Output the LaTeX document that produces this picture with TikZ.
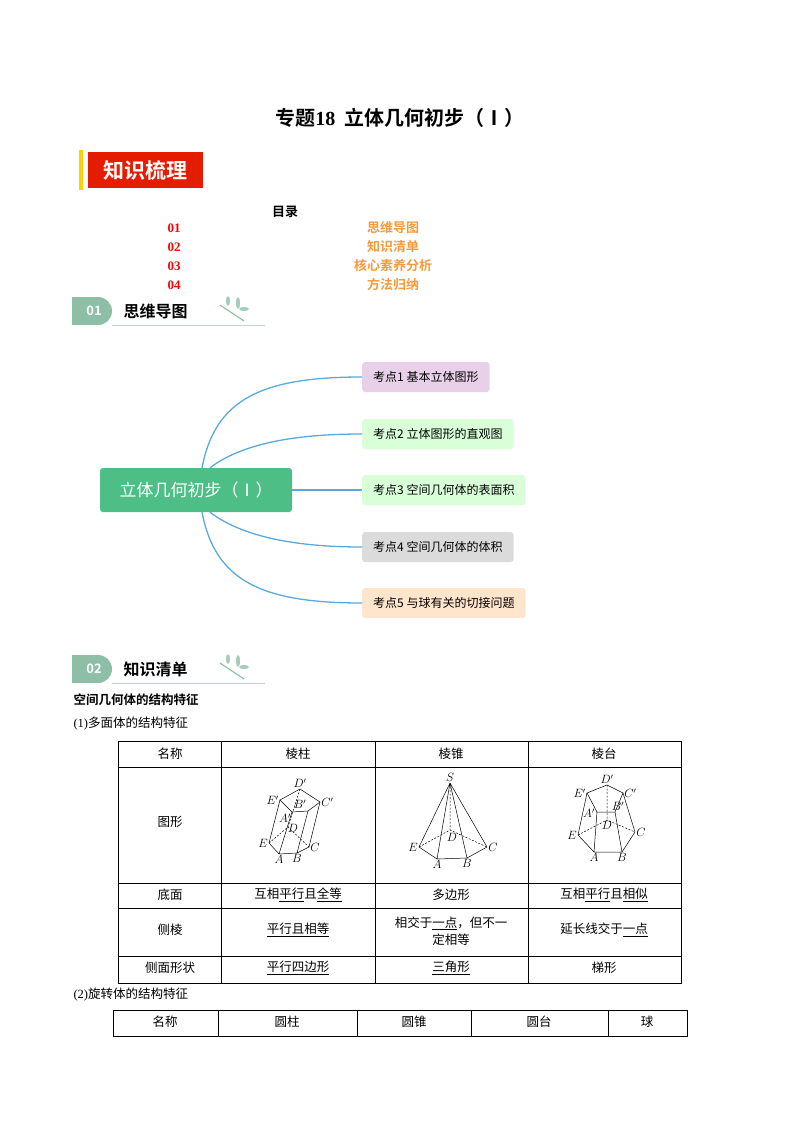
\documentclass[tikz,border=0pt]{standalone}
\usepackage{fontspec}
\setmainfont{Noto Sans CJK SC}[BoldFont=Noto Sans CJK SC Bold]
\newfontfamily\serifnum{Liberation Serif}
\newfontfamily\lm{Latin Modern Roman}
\definecolor{mgreen}{HTML}{4DBE86}
\definecolor{curve}{HTML}{5AA9DA}
\definecolor{orng}{HTML}{F39A3C}
\definecolor{badge}{HTML}{8DBFA6}
\begin{document}
\begin{tikzpicture}[x=1pt,y=-1pt,
 leaf/.style={rounded corners=3pt,minimum height=30pt,anchor=west,font=\fontsize{12}{13}\selectfont,inner xsep=11pt},
 br/.style={curve,line width=1.3pt},
 cell/.style={font=\fontsize{12.5}{14}\selectfont},
 lab/.style={font=\lm\itshape\fontsize{12}{13}\selectfont,inner sep=1pt},
 dsh/.style={dashed,dash pattern=on 2pt off 1.5pt}]
\useasboundingbox (0,0) rectangle (800,1132);
\node[font=\bfseries\fontsize{20}{22}\selectfont] (title) at (400,118) {专题{\serifnum 18}\ \ 立体几何初步（Ⅰ）};
% knowledge badge
\fill[yellow!70!orange] (79,150) rectangle (83,190);
\node[fill=red!75!orange!90!black,text=white,font=\bfseries\fontsize{21}{22}\selectfont,minimum width=115pt,minimum height=36pt,anchor=west] (kb) at (88,170) {知识梳理};
\node[font=\bfseries\fontsize{13}{14}\selectfont] (ml) at (285,212) {目录};
\foreach \n/\t/\y in {01/思维导图/228,02/知识清单/247,03/核心素养分析/266,04/方法归纳/285}{
 \node[text=red,font=\serifnum\bfseries\fontsize{13}{14}\selectfont] (n\n) at (174,\y) {\n};
 \node[text=orng,font=\bfseries\fontsize{13}{14}\selectfont] (t\n) at (393,\y) {\t};}
% section badges
\foreach \yy/\nn/\tt/\id in {311/01/思维导图/a,669/02/知识清单/b}{
 \fill[badge] (72,\yy-14) rectangle (98,\yy+14);
 \fill[badge] (98,\yy) circle (14);
 \node[text=white,font=\bfseries\fontsize{13}{14}\selectfont] (bn\id) at (94,\yy) {\nn};
 \node[font=\bfseries\fontsize{16}{18}\selectfont,anchor=west] (bt\id) at (120,\yy) {\tt};
 \draw[badge!60,line width=1pt] (112,\yy+14) -- (265,\yy+14);
 \draw[badge,line width=1.2pt] (220,\yy-6) .. controls (232,\yy+2) .. (244,\yy+10);
 \fill[badge!80] (228,\yy-10) ellipse (2pt and 5pt);
 \fill[badge!80] (238,\yy-8) ellipse (2pt and 6pt);
 \fill[badge!80] (244,\yy-2) ellipse (5pt and 2pt);}
% mind map
\node[fill=mgreen,text=white,rounded corners=3pt,minimum width=192pt,minimum height=44pt,font=\fontsize{17}{18}\selectfont] (root) at (196,490) {立体几何初步（Ⅰ）};
\node[leaf,fill=violet!18] (k1) at (362,377) {考点1 基本立体图形};
\node[leaf,fill=green!15] (k2) at (362,434) {考点2 立体图形的直观图};
\node[leaf,fill=green!15] (k3) at (362,490) {考点3 空间几何体的表面积};
\node[leaf,fill=black!14] (k4) at (362,547) {考点4 空间几何体的体积};
\node[leaf,fill=orange!20] (k5) at (362,603) {考点5 与球有关的切接问题};
\draw[br] (root.north)++(6,0) .. controls (215,400) and (260,377) .. (k1.west);
\draw[br] (root.north)++(14,0) .. controls (240,445) and (290,434) .. (k2.west);
\draw[br] (root.east) -- (k3.west);
\draw[br] (root.south)++(14,0) .. controls (240,535) and (290,547) .. (k4.west);
\draw[br] (root.south)++(6,0) .. controls (215,580) and (260,603) .. (k5.west);
% section 2 text
\node[font=\bfseries\fontsize{12.5}{14}\selectfont,anchor=west] (s1) at (70,700) {空间几何体的结构特征};
\node[cell,anchor=west] (s2) at (70,724) {{\serifnum(1)}多面体的结构特征};
\node[cell,anchor=west] (s3) at (70,995) {{\serifnum(2)}旋转体的结构特征};
% table 1
\draw[line width=0.6pt] (118,741) rectangle (681,983);
\foreach \y in {767,883,908,956} \draw[line width=0.6pt] (118,\y) -- (681,\y);
\foreach \x in {221,375,528} \draw[line width=0.6pt] (\x,741) -- (\x,983);
\node[cell] (h1) at (170,754) {名称};
\node[cell] (h2) at (298,754) {棱柱};
\node[cell] (h3) at (451,754) {棱锥};
\node[cell] (h4) at (604,754) {棱台};
\node[cell] (r1) at (170,822) {图形};
\node[cell] (r2) at (170,895) {底面};
\node[cell] (r3) at (170,930) {侧棱};
\node[cell] (r4) at (170,968) {侧面形状};
\node[cell] (c21) at (298,895) {互相\underline{平行}且\underline{全等}};
\node[cell] (c31) at (451,895) {多边形};
\node[cell] (c41) at (604,895) {互相\underline{平行}且\underline{相似}};
\node[cell] (c22) at (298,930) {\underline{平行且相等}};
\node[cell,align=center] (c32) at (451,931) {相交于\underline{一点}，但不一\\[3pt]定相等};
\node[cell] (c42) at (604,930) {延长线交于\underline{一点}};
\node[cell] (c23) at (298,968) {\underline{平行四边形}};
\node[cell] (c33) at (451,968) {\underline{三角形}};
\node[cell] (c43) at (604,968) {梯形};
% prism
\begin{scope}[line width=0.5pt]
\coordinate (pE1) at (280,800); \coordinate (pA1) at (292,812); \coordinate (pB1) at (308,811);
\coordinate (pC1) at (320,802); \coordinate (pD1) at (300,789);
\coordinate (pE) at (269,843); \coordinate (pA) at (279,854); \coordinate (pB) at (297,853);
\coordinate (pC) at (309,847); \coordinate (pD) at (288,827);
\draw (pE1)--(pA1)--(pB1)--(pC1)--(pD1)--cycle;
\draw (pE1)--(pE) (pA1)--(pA) (pB1)--(pB) (pC1)--(pC) (pE)--(pA)--(pB)--(pC);
\draw[dsh] (pD1)--(pD) (pE)--(pD)--(pC);
\node[lab,above] at (pD1) {$D'$}; \node[lab,left] at (pE1) {$E'$}; \node[lab,right] at (pC1) {$C'$};
\node[lab] at (300,804) {$B'$}; \node[lab] at (285,818) {$A'$}; \node[lab] at (293,828) {$D$};
\node[lab,left] at (pE) {$E$}; \node[lab,below] at (pA) {$A$}; \node[lab,below] at (pB) {$B$}; \node[lab,right] at (pC) {$C$};
% pyramid
\coordinate (S) at (450,783); \coordinate (yE) at (419,847); \coordinate (yA) at (437,859);
\coordinate (yB) at (467,858); \coordinate (yC) at (487,847); \coordinate (yD) at (450,830);
\draw (S)--(yE) (S)--(yA) (S)--(yB) (S)--(yC) (yE)--(yA)--(yB)--(yC);
\draw[dsh] (S)--(yD) (yE)--(yD)--(yC);
\node[lab,above] at (S) {$S$}; \node[lab,below] at (452,832) {$D$};
\node[lab,left] at (yE) {$E$}; \node[lab,below] at (yA) {$A$}; \node[lab,below] at (yB) {$B$}; \node[lab,right] at (yC) {$C$};
% frustum
\coordinate (fE1) at (587,793); \coordinate (fD1) at (607,785); \coordinate (fC1) at (623,793);
\coordinate (fB1) at (615,812); \coordinate (fA1) at (597,812);
\coordinate (fE) at (578,835); \coordinate (fA) at (594,852); \coordinate (fB) at (622,852);
\coordinate (fC) at (635,832); \coordinate (fD) at (607,820);
\draw (fE1)--(fA1)--(fB1)--(fC1)--(fD1)--cycle;
\draw (fE1)--(fE) (fA1)--(fA) (fB1)--(fB) (fC1)--(fC) (fE)--(fA)--(fB)--(fC);
\draw[dsh] (fD1)--(fD) (fE)--(fD)--(fC);
\node[lab,above] at (fD1) {$D'$}; \node[lab,left] at (fE1) {$E'$}; \node[lab,right] at (fC1) {$C'$};
\node[lab] at (618,806) {$B'$}; \node[lab] at (589,813) {$A'$}; \node[lab,below] at (fD) {$D$};
\node[lab,left] at (fE) {$E$}; \node[lab,below] at (fA) {$A$}; \node[lab,below] at (fB) {$B$}; \node[lab,right] at (fC) {$C$};
\end{scope}
% table 2
\draw[line width=0.6pt] (113,1010) rectangle (687,1036);
\foreach \x in {218,357,471,608} \draw[line width=0.6pt] (\x,1010) -- (\x,1036);
\node[cell] (g1) at (165,1022) {名称};
\node[cell] (g2) at (287,1022) {圆柱};
\node[cell] (g3) at (414,1022) {圆锥};
\node[cell] (g4) at (539,1022) {圆台};
\node[cell] (g5) at (647,1022) {球};
\end{tikzpicture}
\end{document}
